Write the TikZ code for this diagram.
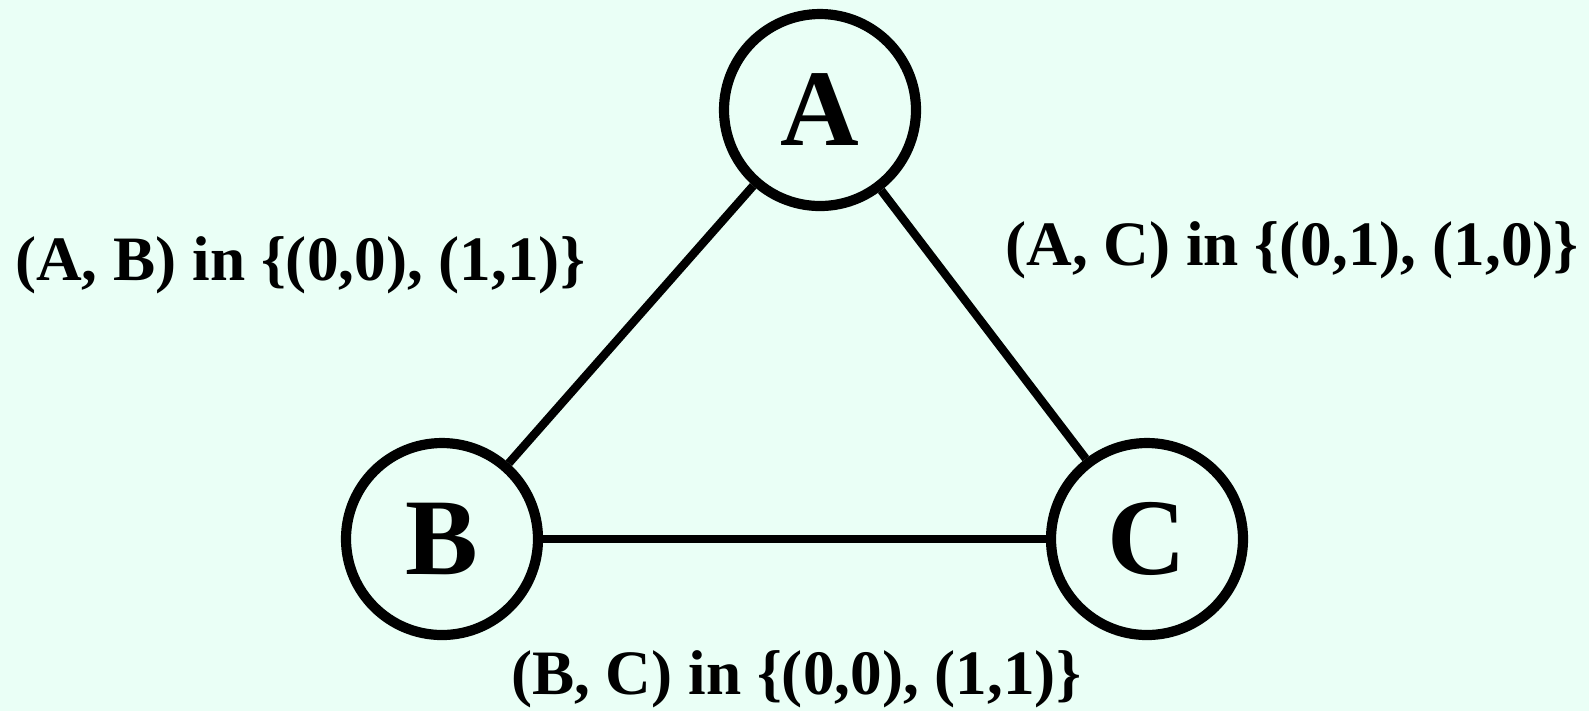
\documentclass[tikz,border=0pt]{standalone}
\usepackage{fontspec}
\setmainfont{Liberation Serif}
\usepackage{xcolor}
\usetikzlibrary{positioning,calc}
\definecolor{mintbg}{RGB}{234,255,246}

\begin{document}
\begin{tikzpicture}[x=0.1mm, y=-0.1mm, main/.style = {circle, draw, line width=2.9pt, fill=none, minimum size=19.2mm, inner sep=0pt, font=\fontsize{31}{32}\selectfont\bfseries}, every edge/.append style={line width=2.4pt}, constraint/.style={anchor=base, inner sep=0pt, font=\fontsize{18}{20}\selectfont\bfseries}]

\fill[mintbg] (0,0) rectangle (1589,711);
\useasboundingbox (0,0) rectangle (1589,711);

\node[main] (A) at (820,110) {A};
\node[main] (B) at (442,539) {B};
\node[main] (C) at (1147,539) {C};

\path
 (A) edge (B)
 (A) edge (C)
 (B) edge (C);

\node[constraint] (ab) at (300,280) {(A, B) in \{(0,0), (1,1)\}};
\node[constraint] (ac) at (1292,265) {(A, C) in \{(0,1), (1,0)\}};
\node[constraint] (bc) at (796,694) {(B, C) in \{(0,0), (1,1)\}};
\end{tikzpicture}
\end{document}
